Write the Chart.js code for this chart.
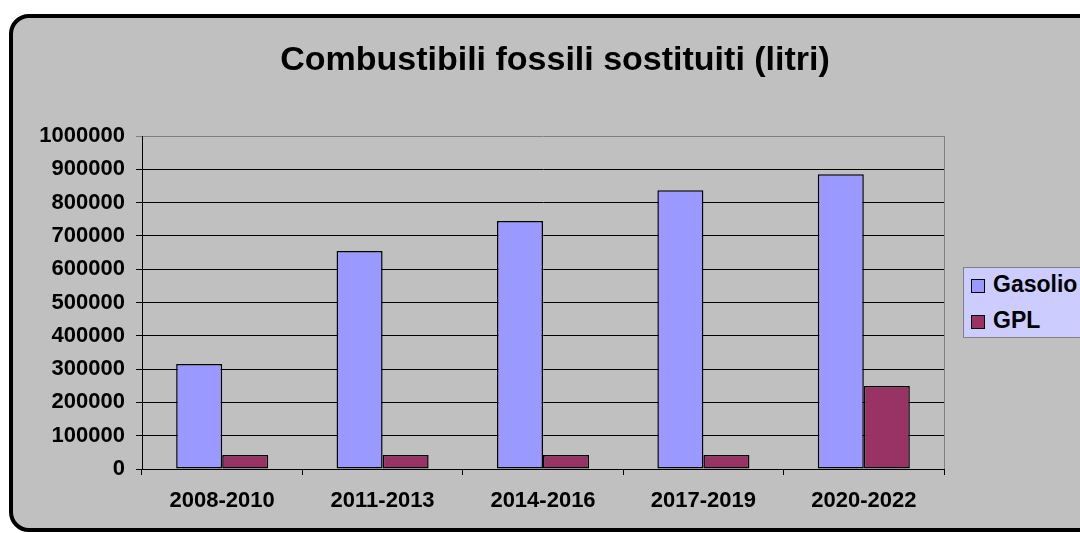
<!DOCTYPE html>
<html>
<head>
<meta charset="utf-8">
<script src="https://cdn.jsdelivr.net/npm/chart.js@4/dist/chart.umd.min.js"></script>
<style>
  html, body { margin:0; padding:0; width:1080px; height:533px; overflow:hidden; background:#ffffff; }
  #frame { position:absolute; left:9px; top:14px; width:1200px; height:510px; background:#C0C0C0; border:4px solid #000; border-radius:20px; }
  #title { position:absolute; left:255px; top:41px; width:600px; text-align:center; font:bold 34px "Liberation Sans", Arial, sans-serif; line-height:34px; color:#000; white-space:nowrap; }
  #chart { position:absolute; left:0; top:0; }
  #legend { position:absolute; left:963px; top:267px; width:200px; height:69px; background:#CCCCFF; border:1px solid #808080; font:bold 23px "Liberation Sans", Arial, sans-serif; color:#000; }
  .item { position:absolute; left:0; white-space:nowrap; }
  .sw { position:absolute; left:7px; width:12px; height:12px; border:1px solid #000; }
  .lbl { position:absolute; left:29px; line-height:23px; }
</style>
</head>
<body>
<div id="frame"></div>
<canvas id="chart" width="1080" height="533"></canvas>
<div id="title">Combustibili fossili sostituiti (litri)</div>
<div id="legend"></div>
<script>
const categories = ["2008-2010", "2011-2013", "2014-2016", "2017-2019", "2020-2022"];
const gasolio = [315000, 655000, 745000, 837000, 885000];
const gpl = [42000, 42000, 42000, 42000, 249000];
const seriesNames = ["Gasolio", "GPL"];
const seriesColors = ["#9999FF", "#993366"];
const yTickValues = [0, 100000, 200000, 300000, 400000, 500000, 600000, 700000, 800000, 900000, 1000000];

const FONT = "'Liberation Sans', Arial, sans-serif";

// HTML legend
const legend = document.getElementById('legend');
seriesNames.forEach((name, i) => {
  const it = document.createElement('div');
  it.className = 'item';
  it.style.top = (i === 0 ? 11 : 47) + 'px';
  it.innerHTML = '<div class="sw" style="top:0px;background:' + seriesColors[i] + '"></div><div class="lbl" style="top:-6px">' + name + '</div>';
  legend.appendChild(it);
});

const frameLines = {
  id: 'frameLines',
  afterDraw(chart) {
    const { ctx, chartArea } = chart;
    ctx.save();
    ctx.strokeStyle = '#808080';
    ctx.lineWidth = 1;
    ctx.beginPath();
    ctx.moveTo(Math.round(chartArea.right) + 0.5, chartArea.top);
    ctx.lineTo(Math.round(chartArea.right) + 0.5, chartArea.bottom);
    ctx.stroke();
    ctx.restore();
  }
};

new Chart(document.getElementById('chart'), {
  type: 'bar',
  data: {
    labels: categories,
    datasets: [
      { label: seriesNames[0], data: gasolio, backgroundColor: seriesColors[0], borderColor: '#000', borderWidth: 1.5, borderSkipped: false,
        categoryPercentage: 0.574, barPercentage: 1.0 },
      { label: seriesNames[1], data: gpl, backgroundColor: seriesColors[1], borderColor: '#000', borderWidth: 1.5, borderSkipped: false,
        categoryPercentage: 0.574, barPercentage: 1.0 }
    ]
  },
  options: {
    responsive: false,
    animation: false,
    layout: { padding: { left: 0, right: 136, top: 136, bottom: 0 } },
    plugins: { legend: { display: false }, title: { display: false }, tooltip: { enabled: false } },
    scales: {
      x: {
        offset: true,
        grid: { offset: true, drawOnChartArea: false, drawTicks: true, tickLength: 6, color: '#000' },
        border: { color: '#000', width: 1 },
        ticks: { color: '#000', font: { family: FONT, size: 22, weight: 'bold' }, padding: 13, maxRotation: 0 },
        afterFit(scale) { scale.height = 64; }
      },
      y: {
        min: 0, max: 1000000,
        afterBuildTicks(scale) { scale.ticks = yTickValues.map(v => ({ value: v })); },
        grid: { color: ctx => (ctx.tick && ctx.tick.value === 1000000) ? '#808080' : '#000', tickLength: 6, drawTicks: true },
        border: { color: '#000', width: 1 },
        ticks: { color: '#000', font: { family: FONT, size: 22, weight: 'bold' }, padding: 11,
          callback: v => String(v) },
        afterFit(scale) { scale.width = 142; }
      }
    }
  },
  plugins: [frameLines]
});
</script>
</body>
</html>
